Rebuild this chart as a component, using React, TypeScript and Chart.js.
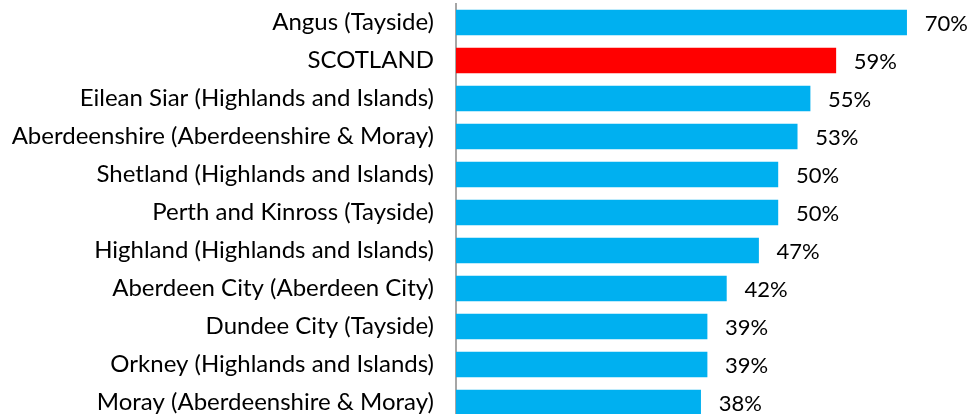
import React, { useEffect, useRef } from "react";
import { Chart, registerables } from "chart.js";

Chart.register(...registerables);

const categories = [
  "Angus (Tayside)",
  "SCOTLAND",
  "Eilean Siar (Highlands and Islands)",
  "Aberdeenshire (Aberdeenshire & Moray)",
  "Shetland (Highlands and Islands)",
  "Perth and Kinross (Tayside)",
  "Highland (Highlands and Islands)",
  "Aberdeen City (Aberdeen City)",
  "Dundee City (Tayside)",
  "Orkney (Highlands and Islands)",
  "Moray (Aberdeenshire & Moray)",
];

const values = [70, 59, 55, 53, 50, 50, 47, 42, 39, 39, 38];

const barColors = categories.map((c) => (c === "SCOTLAND" ? "#FF0000" : "#00B0F0"));

const FONT = "Lato, 'Liberation Sans', sans-serif";
const FONT_SIZE = 24;
const VALUE_FONT_SIZE = 22;

const valueLabelPlugin = {
  id: "valueLabels",
  afterDatasetsDraw(chart: any) {
    const { ctx } = chart;
    const meta = chart.getDatasetMeta(0);
    ctx.save();
    ctx.font = `${VALUE_FONT_SIZE}px ${FONT}`;
    ctx.fillStyle = "#000000";
    ctx.textAlign = "left";
    ctx.textBaseline = "middle";
    meta.data.forEach((bar: any, i: number) => {
      ctx.fillText(`${values[i]}%`, bar.x + 18, bar.y + 1);
    });
    ctx.restore();
  },
};

export default function App() {
  const ref = useRef<HTMLCanvasElement>(null);
  useEffect(() => {
    if (!ref.current) return;
    const chart = new Chart(ref.current, {
      type: "bar",
      data: {
        labels: categories,
        datasets: [
          {
            data: values,
            backgroundColor: barColors,
            barThickness: 25,
          },
        ],
      },
      options: {
        indexAxis: "y",
        animation: false,
        responsive: false,
        maintainAspectRatio: false,
        layout: { padding: { top: 3.5, bottom: 0.5, left: 0, right: 0 } },
        plugins: {
          legend: { display: false },
          tooltip: { enabled: false },
        },
        scales: {
          x: {
            display: false,
            min: 0,
            max: 80,
          },
          y: {
            grid: { display: false, drawTicks: false },
            border: { display: true, color: "#A6A6A6", width: 2 },
            ticks: {
              color: "#000000",
              padding: 22,
              font: { family: FONT, size: FONT_SIZE },
            },
            afterFit(scale: any) {
              scale.width = 456;
              scale.paddingTop = 0;
              scale.paddingBottom = 0;
            },
          },
        },
      },
      plugins: [valueLabelPlugin],
    });
    return () => chart.destroy();
  }, []);
  return (
    <div style={{ position: "absolute", left: 0, top: 0, width: 971, height: 414, overflow: "hidden" }}>
      <canvas ref={ref} width={971} height={422} style={{ display: "block" }} />
    </div>
  );
}
